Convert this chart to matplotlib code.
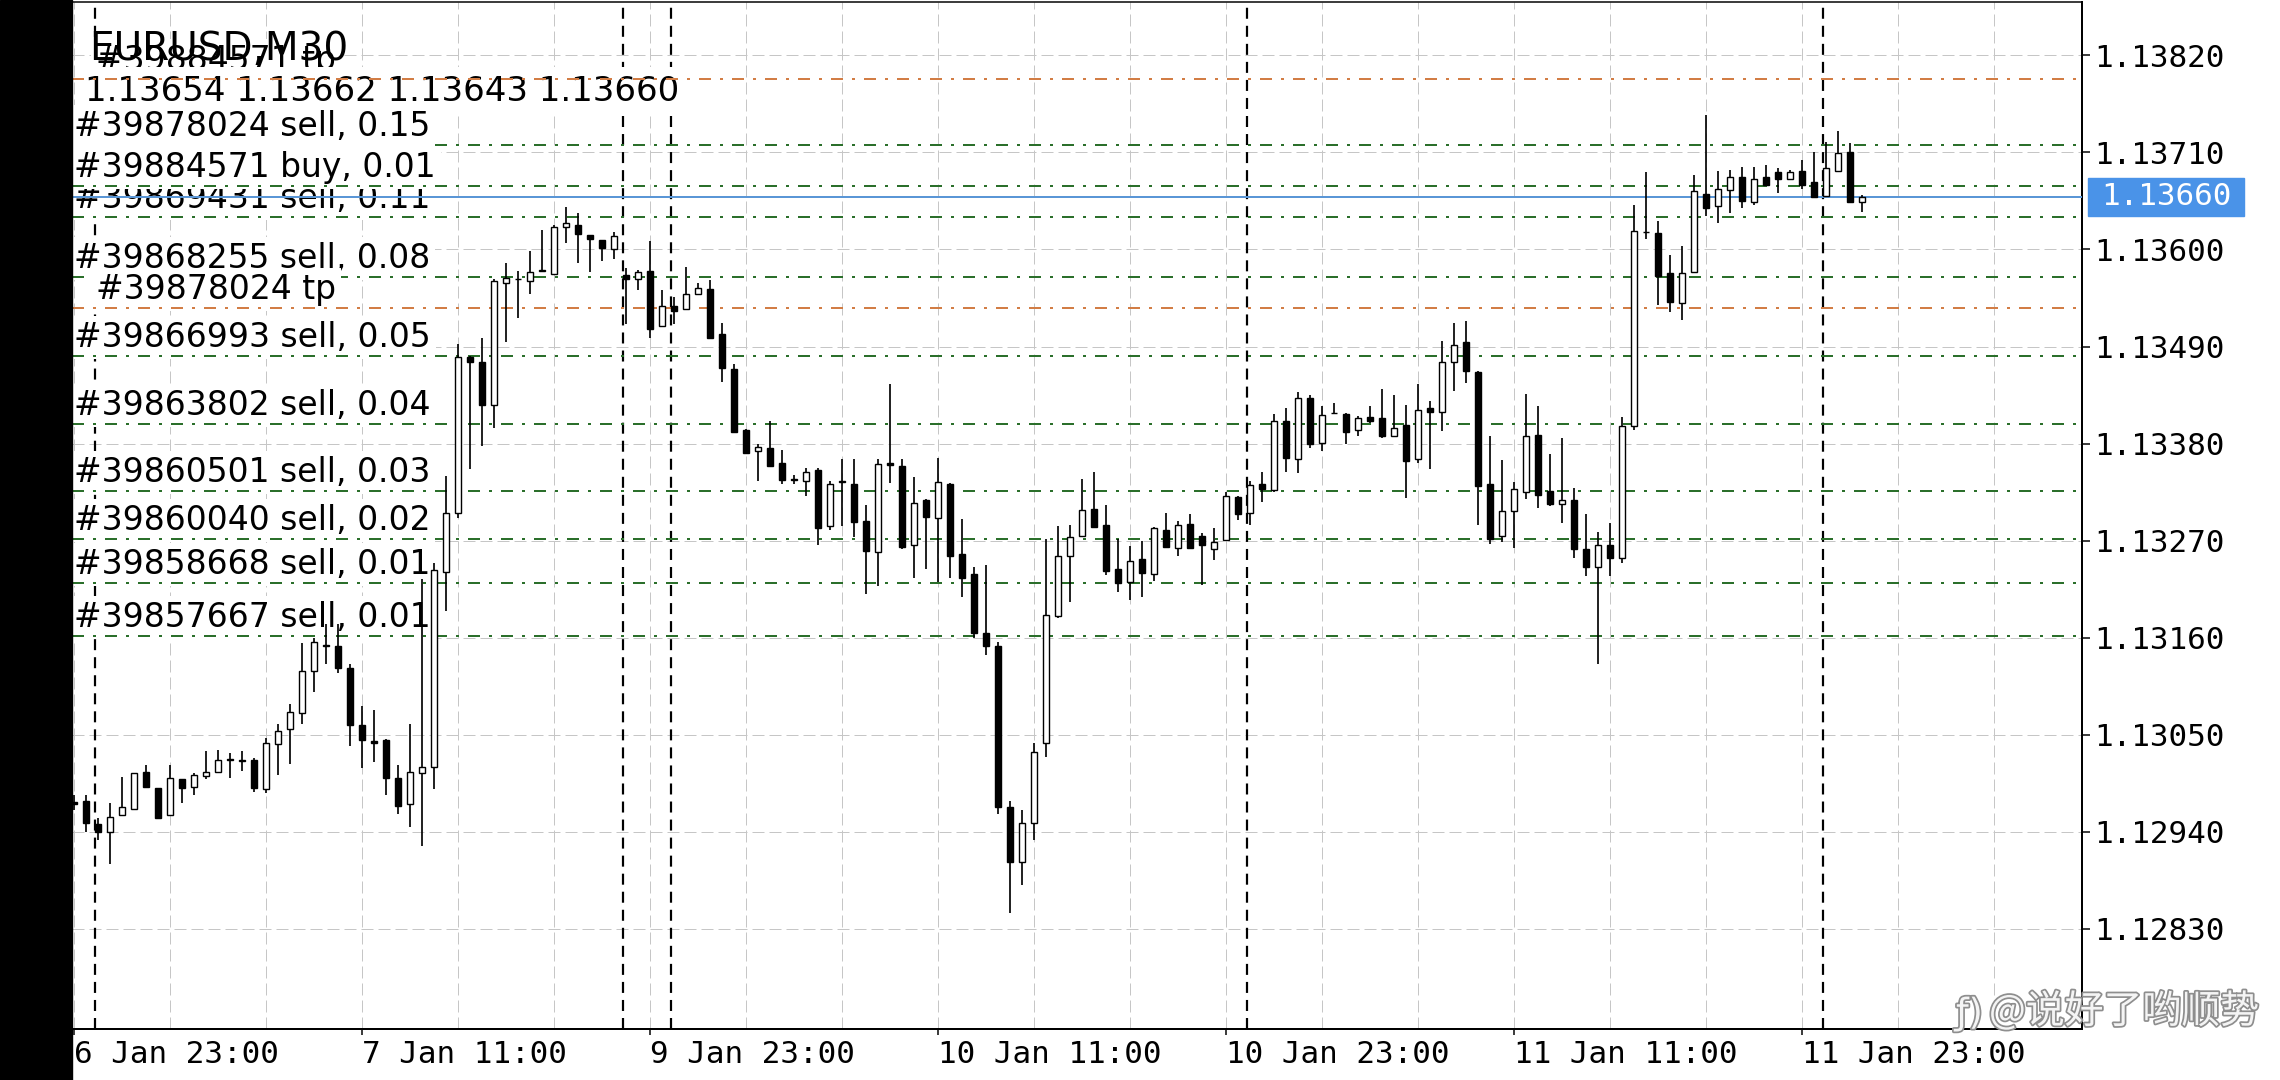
import matplotlib
matplotlib.use("Agg")
import numpy as np
import matplotlib.pyplot as plt
import matplotlib.patheffects as pe
from matplotlib import transforms
from matplotlib.patches import Rectangle

# EURUSD M30 bars, index 0 = 6 Jan 23:00
opens = [1.12974, 1.12975, 1.12949, 1.12940, 1.12959, 1.12966, 1.13008, 1.12990, 1.12959, 1.13000,
         1.12991, 1.13003, 1.13008, 1.13022, 1.13021, 1.13021, 1.12988, 1.13039, 1.13056, 1.13074,
         1.13122, 1.13152, 1.13151, 1.13126, 1.13061, 1.13043, 1.13044, 1.13001, 1.12971, 1.13006,
         1.13013, 1.13234, 1.13301, 1.13478, 1.13472, 1.13424, 1.13562, 1.13567, 1.13564, 1.13576,
         1.13572, 1.13626, 1.13628, 1.13616, 1.13611, 1.13601, 1.13571, 1.13566, 1.13576, 1.13513,
         1.13536, 1.13532, 1.13550, 1.13555, 1.13504, 1.13465, 1.13395, 1.13372, 1.13375, 1.13358,
         1.13340, 1.13337, 1.13350, 1.13287, 1.13336, 1.13334, 1.13292, 1.13257, 1.13358, 1.13355,
         1.13265, 1.13316, 1.13295, 1.13334, 1.13255, 1.13232, 1.13165, 1.13150, 1.12968, 1.12905,
         1.12950, 1.13040, 1.13184, 1.13253, 1.13275, 1.13306, 1.13288, 1.13238, 1.13223, 1.13249,
         1.13232, 1.13282, 1.13261, 1.13289, 1.13275, 1.13260, 1.13271, 1.13319, 1.13301, 1.13334,
         1.13327, 1.13405, 1.13362, 1.13432, 1.13381, 1.13415, 1.13413, 1.13395, 1.13410, 1.13409,
         1.13389, 1.13401, 1.13362, 1.13420, 1.13416, 1.13472, 1.13495, 1.13461, 1.13334, 1.13275,
         1.13304, 1.13325, 1.13390, 1.13326, 1.13311, 1.13316, 1.13260, 1.13240, 1.13265, 1.13250,
         1.13400, 1.13620, 1.13619, 1.13573, 1.13539, 1.13574, 1.13663, 1.13649, 1.13668, 1.13682,
         1.13654, 1.13682, 1.13688, 1.13680, 1.13689, 1.13677, 1.13661, 1.13689, 1.13711, 1.13654]
highs = [1.12982, 1.12982, 1.12955, 1.12972, 1.13002, 1.13007, 1.13016, 1.12990, 1.13016, 1.13000,
         1.13006, 1.13031, 1.13033, 1.13029, 1.13031, 1.13024, 1.13046, 1.13062, 1.13085, 1.13154,
         1.13159, 1.13175, 1.13175, 1.13130, 1.13082, 1.13078, 1.13045, 1.13016, 1.13062, 1.13226,
         1.13244, 1.13343, 1.13493, 1.13479, 1.13500, 1.13567, 1.13585, 1.13576, 1.13598, 1.13622,
         1.13628, 1.13648, 1.13641, 1.13616, 1.13611, 1.13620, 1.13579, 1.13577, 1.13610, 1.13554,
         1.13546, 1.13580, 1.13562, 1.13565, 1.13517, 1.13470, 1.13396, 1.13379, 1.13405, 1.13373,
         1.13344, 1.13352, 1.13352, 1.13338, 1.13363, 1.13362, 1.13310, 1.13362, 1.13448, 1.13363,
         1.13342, 1.13317, 1.13364, 1.13335, 1.13294, 1.13240, 1.13242, 1.13155, 1.12975, 1.12965,
         1.13040, 1.13272, 1.13286, 1.13288, 1.13340, 1.13348, 1.13310, 1.13272, 1.13264, 1.13269,
         1.13285, 1.13301, 1.13292, 1.13300, 1.13279, 1.13284, 1.13325, 1.13320, 1.13337, 1.13348,
         1.13413, 1.13420, 1.13438, 1.13435, 1.13422, 1.13426, 1.13415, 1.13411, 1.13422, 1.13442,
         1.13435, 1.13424, 1.13447, 1.13428, 1.13496, 1.13517, 1.13519, 1.13462, 1.13389, 1.13361,
         1.13336, 1.13436, 1.13422, 1.13368, 1.13386, 1.13330, 1.13300, 1.13280, 1.13290, 1.13410,
         1.13651, 1.13688, 1.13632, 1.13594, 1.13604, 1.13685, 1.13752, 1.13689, 1.13690, 1.13693,
         1.13694, 1.13696, 1.13692, 1.13690, 1.13702, 1.13711, 1.13722, 1.13734, 1.13721, 1.13662]
lows = [1.12965, 1.12939, 1.12930, 1.12903, 1.12958, 1.12965, 1.12990, 1.12954, 1.12958, 1.12973,
        1.12982, 1.13000, 1.13008, 1.13001, 1.13009, 1.12985, 1.12984, 1.13004, 1.13017, 1.13062,
        1.13098, 1.13130, 1.13120, 1.13037, 1.13012, 1.13019, 1.12982, 1.12960, 1.12945, 1.12924,
        1.12988, 1.13190, 1.13296, 1.13351, 1.13377, 1.13398, 1.13495, 1.13522, 1.13549, 1.13575,
        1.13571, 1.13607, 1.13585, 1.13575, 1.13587, 1.13589, 1.13515, 1.13554, 1.13500, 1.13512,
        1.13516, 1.13531, 1.13549, 1.13499, 1.13450, 1.13392, 1.13368, 1.13337, 1.13354, 1.13334,
        1.13334, 1.13320, 1.13265, 1.13282, 1.13287, 1.13274, 1.13209, 1.13219, 1.13335, 1.13260,
        1.13228, 1.13238, 1.13223, 1.13227, 1.13206, 1.13160, 1.13140, 1.12960, 1.12848, 1.12880,
        1.12930, 1.13025, 1.13182, 1.13200, 1.13274, 1.13284, 1.13231, 1.13212, 1.13203, 1.13206,
        1.13224, 1.13262, 1.13253, 1.13262, 1.13220, 1.13248, 1.13270, 1.13293, 1.13288, 1.13314,
        1.13325, 1.13348, 1.13347, 1.13375, 1.13371, 1.13414, 1.13379, 1.13389, 1.13403, 1.13386,
        1.13388, 1.13318, 1.13358, 1.13351, 1.13394, 1.13439, 1.13449, 1.13288, 1.13266, 1.13268,
        1.13261, 1.13317, 1.13307, 1.13309, 1.13290, 1.13250, 1.13230, 1.13130, 1.13230, 1.13245,
        1.13395, 1.13612, 1.13537, 1.13529, 1.13520, 1.13573, 1.13638, 1.13630, 1.13641, 1.13647,
        1.13651, 1.13672, 1.13664, 1.13679, 1.13669, 1.13658, 1.13660, 1.13689, 1.13654, 1.13643]
closes = [1.12971, 1.12950, 1.12939, 1.12957, 1.12968, 1.13006, 1.12991, 1.12955, 1.13001, 1.12990,
          1.13004, 1.13008, 1.13021, 1.13021, 1.13020, 1.12989, 1.13040, 1.13054, 1.13076, 1.13122,
          1.13155, 1.13150, 1.13126, 1.13061, 1.13044, 1.13041, 1.13001, 1.12969, 1.13008, 1.13013,
          1.13237, 1.13301, 1.13478, 1.13472, 1.13424, 1.13564, 1.13568, 1.13566, 1.13574, 1.13577,
          1.13625, 1.13630, 1.13617, 1.13612, 1.13602, 1.13615, 1.13566, 1.13574, 1.13510, 1.13536,
          1.13530, 1.13549, 1.13556, 1.13500, 1.13466, 1.13393, 1.13369, 1.13376, 1.13355, 1.13339,
          1.13339, 1.13348, 1.13284, 1.13334, 1.13337, 1.13291, 1.13258, 1.13357, 1.13356, 1.13263,
          1.13313, 1.13297, 1.13336, 1.13253, 1.13228, 1.13165, 1.13150, 1.12968, 1.12905, 1.12950,
          1.13030, 1.13186, 1.13253, 1.13274, 1.13305, 1.13285, 1.13235, 1.13222, 1.13247, 1.13233,
          1.13284, 1.13263, 1.13288, 1.13262, 1.13265, 1.13268, 1.13321, 1.13300, 1.13333, 1.13328,
          1.13405, 1.13364, 1.13432, 1.13379, 1.13412, 1.13415, 1.13393, 1.13409, 1.13405, 1.13388,
          1.13398, 1.13360, 1.13418, 1.13416, 1.13473, 1.13492, 1.13462, 1.13332, 1.13272, 1.13303,
          1.13328, 1.13388, 1.13322, 1.13311, 1.13316, 1.13260, 1.13240, 1.13265, 1.13250, 1.13400,
          1.13621, 1.13620, 1.13570, 1.13540, 1.13573, 1.13666, 1.13647, 1.13669, 1.13682, 1.13655,
          1.13680, 1.13673, 1.13680, 1.13688, 1.13673, 1.13659, 1.13692, 1.13709, 1.13654, 1.13660]

time_ticks = [0, 24, 48, 72, 96, 120, 144]
time_labels = ["6 Jan 23:00", "7 Jan 11:00", "9 Jan 23:00", "10 Jan 11:00",
               "10 Jan 23:00", "11 Jan 11:00", "11 Jan 23:00"]
day_starts = [2, 46, 50, 98, 146]
price_ticks = [1.13820, 1.13710, 1.13600, 1.13490, 1.13380,
               1.13270, 1.13160, 1.13050, 1.12940, 1.12830]

order_prices = [1.13718, 1.13672, 1.13637, 1.13569, 1.13479,
                1.13402, 1.13326, 1.13272, 1.13222, 1.13162]
order_labels = ["#39878024 sell, 0.15", "#39884571 buy, 0.01", "#39869431 sell, 0.11",
                "#39868255 sell, 0.08", "#39866993 sell, 0.05", "#39863802 sell, 0.04",
                "#39860501 sell, 0.03", "#39860040 sell, 0.02", "#39858668 sell, 0.01",
                "#39857667 sell, 0.01"]
tp_prices = [1.13793, 1.13534]
tp_labels = ["#39884571 tp", "#39878024 tp"]
bid = closes[-1]

W, H = 2280, 1080
PT = 0.72  # points per pixel at dpi 100
GREEN = "#2b6f2b"
ORANGE = "#d27d45"
BLUE = "#5a96d6"

fig = plt.figure(figsize=(W / 100, H / 100), dpi=100)
fig.patch.set_facecolor("white")
left, right, top, bottom = 72, 2082, 2, 1029
ax = fig.add_axes([left / W, 1 - bottom / H, (right - left) / W, (bottom - top) / H])
fig.patches.append(Rectangle((0, 0), left / W, 1, transform=fig.transFigure,
                             color="black", zorder=0))

n = len(opens)
x = np.arange(n)
ax.set_xlim((left - 73.7) / 12, (right - 73.7) / 12)
ax.set_ylim(1.127162, 1.138806)

# grid
for gx in range(0, 168, 8):
    ax.axvline(gx, color="#c6c6c6", lw=1 * PT, ls=(0, (12, 5)), zorder=1)
for gy in price_ticks:
    ax.axhline(gy, color="#c6c6c6", lw=1 * PT, ls=(0, (12, 5)), zorder=1)
for d in day_starts:
    ax.axvline(d - 0.2, color="black", lw=2.2 * PT, ls=(0, (5, 3.2)), zorder=2)

# trade levels
blend = transforms.blended_transform_factory(ax.transAxes, ax.transData)
line_z = [3.5, 5, 5, 4.47, 5, 5, 5, 5, 5, 5]
text_z = [4.3, 4.4, 4.35, 4.45, 4.3, 4.3, 4.3, 4.3, 4.3, 4.3]
for p, s, lz, tz in zip(order_prices, order_labels, line_z, text_z):
    ax.axhline(p, color=GREEN, lw=2 * PT, ls=(0, (6, 4.5, 1.5, 4.5)), zorder=lz)
    ax.annotate(s, (0.001, p), xycoords=blend, xytext=(0, 9 * PT), textcoords="offset points",
                va="baseline", ha="left", fontsize=33 * PT, zorder=tz,
                bbox=dict(boxstyle="square,pad=0.15", fc="white", ec="none"))
for p, s, tz in zip(tp_prices, tp_labels, [4.0, 4.5]):
    ax.axhline(p, color=ORANGE, lw=2 * PT, ls=(0, (6, 4.5, 1.5, 4.5)), zorder=5)
    ax.annotate(s, (0.012, p), xycoords=blend, xytext=(0, 9 * PT), textcoords="offset points",
                va="baseline", ha="left", fontsize=33 * PT, zorder=tz,
                bbox=dict(boxstyle="square,pad=0.15", fc="white", ec="none"))

ax.axhline(bid, color=BLUE, lw=2 * PT, zorder=5.5)

# header
ax.text(0.0085, 0.9435, "EURUSD,M30", transform=ax.transAxes, fontsize=39 * PT,
        va="baseline", ha="left", zorder=4.2)
ohlc = " ".join(f"{v:.5f}" for v in (opens[-1], highs[-1], lows[-1], closes[-1]))
ax.text(0.0065, 0.9036, ohlc, transform=ax.transAxes, fontsize=34 * PT,
        va="baseline", ha="left", zorder=4.1,
        bbox=dict(boxstyle="square,pad=0.24", fc="white", ec="none"))

# candles
o = np.array(opens); h = np.array(highs); l = np.array(lows); c = np.array(closes)
ax.vlines(x, l, h, color="black", lw=1.7 * PT, zorder=6)
body_col = ["white" if cc >= oo else "black" for oo, cc in zip(o, c)]
ax.bar(x, np.maximum(np.abs(c - o), 1e-7), bottom=np.minimum(o, c), width=0.52,
       color=body_col, edgecolor="black", linewidth=1.4 * PT, zorder=6.5)

# axes
ax.spines["left"].set_visible(False)
ax.spines["top"].set_linewidth(1.5 * PT)
ax.spines["right"].set_linewidth(2 * PT)
ax.spines["bottom"].set_linewidth(2 * PT)

ax.yaxis.tick_right()
ax.set_yticks(price_ticks)
ax.set_yticklabels([f"{p:.5f}" for p in price_ticks])
ax.set_xticks(time_ticks)
ax.set_xticklabels(time_labels, ha="left")
ax.tick_params(axis="y", direction="out", length=8 * PT, width=1.5 * PT, pad=4 * PT,
               labelsize=31 * PT)
ax.tick_params(axis="x", direction="out", length=6 * PT, width=1.5 * PT, pad=5 * PT,
               labelsize=31 * PT)
for lab in ax.get_xticklabels() + ax.get_yticklabels():
    lab.set_family("DejaVu Sans Mono")

# current price tag
ax.add_patch(Rectangle((1.003, bid - 0.000215), 0.0776, 0.00043, transform=blend,
                       color="#4a93e8", clip_on=False, zorder=7))
ax.text(1.0095, bid, f"{bid:.5f}", transform=blend, color="white", fontsize=31 * PT,
        family="DejaVu Sans Mono", va="center", ha="left", zorder=8, clip_on=False)

# watermark
halo = [pe.withStroke(linewidth=2.5, foreground="#8e8e8e")]
fig.text(1956 / W, 1 - 1014 / H, "ƒ)", fontsize=26, family="DejaVu Sans", color="#f4f4f4",
         va="center", ha="left", path_effects=halo)
fig.text(1989 / W, 1 - 1012 / H, "@说好了哟顺势", fontsize=28,
         family=["Noto Sans CJK SC", "DejaVu Sans"], color="#f4f4f4", va="center", ha="left",
         path_effects=halo)

fig.savefig("out.png", dpi=100, facecolor="white")
